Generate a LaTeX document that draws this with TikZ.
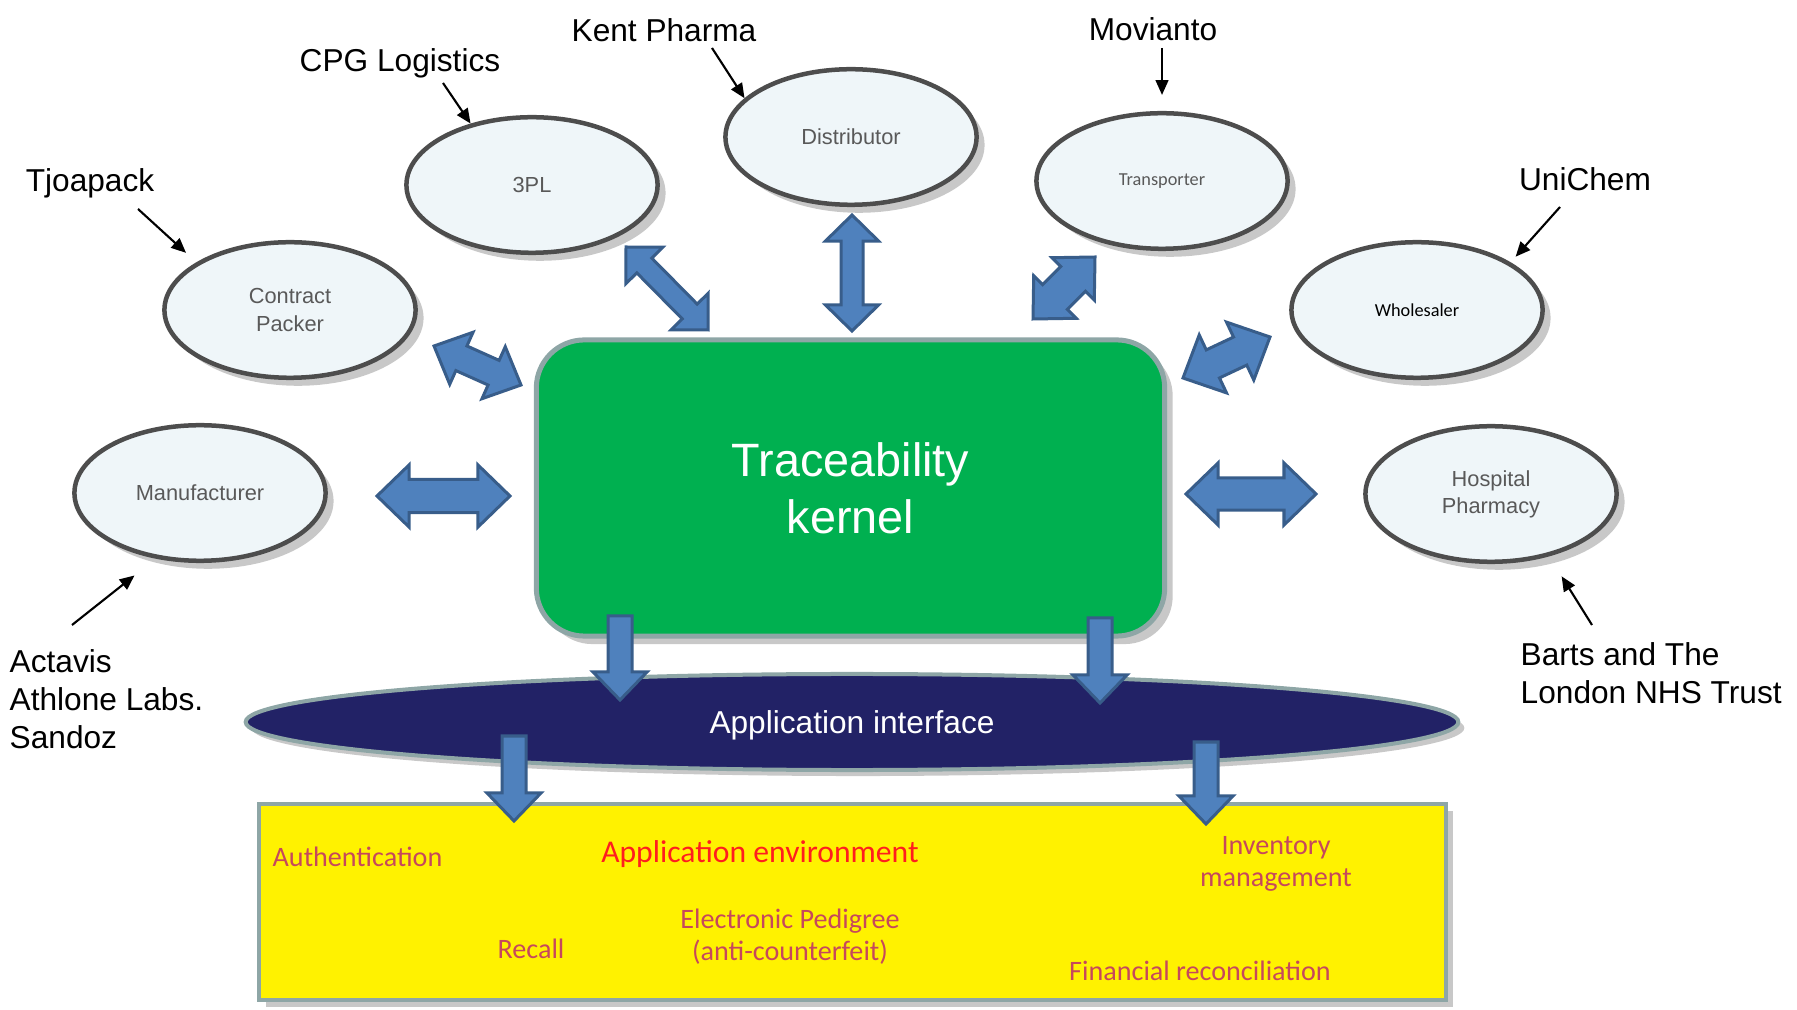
\documentclass[tikz,border=0pt]{standalone}
\usepackage{fontspec}
\setmainfont{Liberation Sans}
\newfontfamily\calfont{Carlito}
\usetikzlibrary{shapes,positioning,calc,shadows,arrows.meta}

\definecolor{partyfill}{RGB}{239,246,249}
\definecolor{partyline}{RGB}{77,77,77}
\definecolor{kernelgreen}{RGB}{0,176,80}
\definecolor{frameteal}{RGB}{142,166,166}
\definecolor{apinavy}{RGB}{34,34,102}
\definecolor{arrowfill}{RGB}{79,129,189}
\definecolor{arrowline}{RGB}{56,93,138}
\definecolor{shadowgray}{RGB}{200,200,200}
\definecolor{labelgray}{RGB}{89,89,89}
\definecolor{appred}{RGB}{255,30,30}
\definecolor{apptext}{RGB}{198,72,92}

\tikzset{
  softshadow/.style={drop shadow={shadow xshift=#1, shadow yshift=-#1, fill=shadowgray, opacity=1}},
  party/.style={ellipse, draw=partyline, fill=partyfill, line width=0.045cm,
    minimum width=2.51cm, minimum height=1.355cm, inner sep=0pt, align=center,
    text=labelgray, font=\fontsize{6.2}{7.7}\selectfont, softshadow=0.08cm},
  kernelbox/.style={rectangle, rounded corners=0.48cm, draw=frameteal, fill=kernelgreen,
    line width=0.05cm, minimum width=6.28cm, minimum height=2.96cm, text=white,
    align=center, font=\fontsize{13.3}{16.2}\selectfont, softshadow=0.08cm},
  apibox/.style={ellipse, draw=frameteal, fill=apinavy, line width=0.04cm,
    minimum width=12.12cm, minimum height=0.96cm, text=white, text depth=0pt,
    font=\fontsize{9}{10.8}\selectfont, softshadow=0.06cm},
  envbox/.style={rectangle, draw=frameteal, fill=yellow, line width=0.04cm,
    minimum width=11.87cm, minimum height=1.96cm, softshadow=0.07cm},
  tag/.style={anchor=base, inner sep=0pt, font=\fontsize{9}{10.8}\selectfont},
  apptask/.style={inner sep=0pt, text=apptext, font=\calfont\fontsize{8}{9}\selectfont},
  apptitle/.style={inner sep=0pt, text=appred, font=\calfont\fontsize{9}{10.8}\selectfont},
  pointer/.style={-{Triangle[length=4.2pt,width=3.6pt]}, line width=0.6pt},
  blockarrow/.style={draw=arrowline, fill=arrowfill, line width=0.03cm, line join=miter}
}

% double block arrow: tip, tip, head length, head half width, shaft half width
\newcommand{\dblarrow}[5]{%
  \coordinate (ta) at (#1);
  \coordinate (tb) at (#2);
  \coordinate (ha) at ($(ta)!#3!(tb)$);
  \coordinate (hb) at ($(tb)!#3!(ta)$);
  \draw[blockarrow] (ta) -- ($(ha)!#4!90:(tb)$) -- ($(ha)!#5!90:(tb)$)
    -- ($(hb)!#5!-90:(ta)$) -- ($(hb)!#4!-90:(ta)$) -- (tb)
    -- ($(hb)!#4!90:(ta)$) -- ($(hb)!#5!90:(ta)$)
    -- ($(ha)!#5!-90:(tb)$) -- ($(ha)!#4!-90:(tb)$) -- cycle;
}
% single block arrow: tail centre, tip
\newcommand{\dnarrow}[2]{%
  \coordinate (ta) at (#1);
  \coordinate (tb) at (#2);
  \coordinate (hb) at ($(tb)!0.28cm!(ta)$);
  \draw[blockarrow] ($(ta)!0.12cm!90:(tb)$) -- ($(hb)!0.12cm!-90:(ta)$)
    -- ($(hb)!0.27cm!-90:(ta)$) -- (tb) -- ($(hb)!0.27cm!90:(ta)$)
    -- ($(hb)!0.12cm!90:(ta)$) -- ($(ta)!0.12cm!-90:(tb)$) -- cycle;
}

\begin{document}
\begin{tikzpicture}[x=0.01cm, y=-0.01cm]
\useasboundingbox (0,0) rectangle (1797,1010);

\node[party] (manu)  at (200,493)  {Manufacturer};
\node[party] (cpack) at (290,310)  {Contract\\Packer};
\node[party] (tpl)   at (532,185)  {3PL};
\node[party] (dist)  at (851,137)  {Distributor};
\node[party, font=\calfont\fontsize{5.2}{6.2}\selectfont] (trans) at (1162,181) {Transporter};
\node[party, text=black, font=\calfont\fontsize{5.2}{6.2}\selectfont] (whole) at (1417,310) {Wholesaler};
\node[party] (hosp)  at (1491,494) {Hospital\\Pharmacy};

\node[kernelbox] (kernel) at (850.5,488) {Traceability\\kernel};
\node[apibox] (api) at (852,722) {Application interface};
\node[envbox] (env) at (852.5,902) {};

\node[tag] (kent) at (664,42)   {Kent Pharma};
\node[tag] (cpg)  at (400,72)   {CPG Logistics};
\node[tag] (tjoa) at (90,192)   {Tjoapack};
\node[tag] (movi) at (1153,41)  {Movianto};
\node[tag] (uni)  at (1585,191) {UniChem};
\node[tag, anchor=north west, align=left] (actavis) at (9,649) {Actavis\\Athlone Labs.\\Sandoz};
\node[tag, anchor=north west, align=left] (barts) at (1520,642) {Barts and The\\London NHS Trust};

\coordinate (kentA) at (712,48);
\coordinate (cpgA)  at (443,83);
\coordinate (tjoA)  at (138,209);
\coordinate (movA)  at (1162,48);
\coordinate (uniA)  at (1560,207);
\coordinate (actA)  at (72,625);
\coordinate (bartA) at (1592,625);

\draw[pointer] (kentA) -- (dist.160);
\draw[pointer] (cpgA) -- (tpl.135);
\draw[pointer, shorten >=0.14cm] (tjoA) -- (cpack.153);
\draw[pointer, shorten >=0.16cm] (movA) -- (trans.north);
\draw[pointer, shorten >=0.075cm] (uniA) -- (whole.27);
\draw[pointer, shorten >=0.27cm] (actA) -- (manu.236);
\draw[pointer, shorten >=0.235cm] (bartA) -- (hosp.313);

\dblarrow{377,496}{510,496}{0.32cm}{0.31cm}{0.165cm}
\dblarrow{434,346}{521,385}{0.30cm}{0.285cm}{0.135cm}
\dblarrow{626,247}{708,330}{0.26cm}{0.26cm}{0.105cm}
\dblarrow{852,215}{852,331}{0.26cm}{0.265cm}{0.11cm}
\dblarrow{1095,257}{1033,319}{0.31cm}{0.30cm}{0.175cm}
\dblarrow{1270,337}{1183,378}{0.33cm}{0.32cm}{0.155cm}
\dblarrow{1186,494}{1316,494}{0.32cm}{0.31cm}{0.16cm}

\dnarrow{620,616}{620,700}
\dnarrow{1100,618}{1100,703}
\dnarrow{514,736}{514,821}
\dnarrow{1206,742}{1206,824}

\node[apptask, anchor=base west] (auth) at (272,866) {Authentication};
\node[apptitle, anchor=base] (appenv) at (760,862) {Application environment};
\node[apptask, align=center] (inv) at (1276,864) {Inventory\\management};
\node[apptask, align=center] (epi) at (790,937) {Electronic Pedigree\\(anti-counterfeit)};
\node[apptask, anchor=base] (recall) at (531,958) {Recall};
\node[apptask, anchor=base] (fin) at (1200,980) {Financial reconciliation};
\end{tikzpicture}
\end{document}
